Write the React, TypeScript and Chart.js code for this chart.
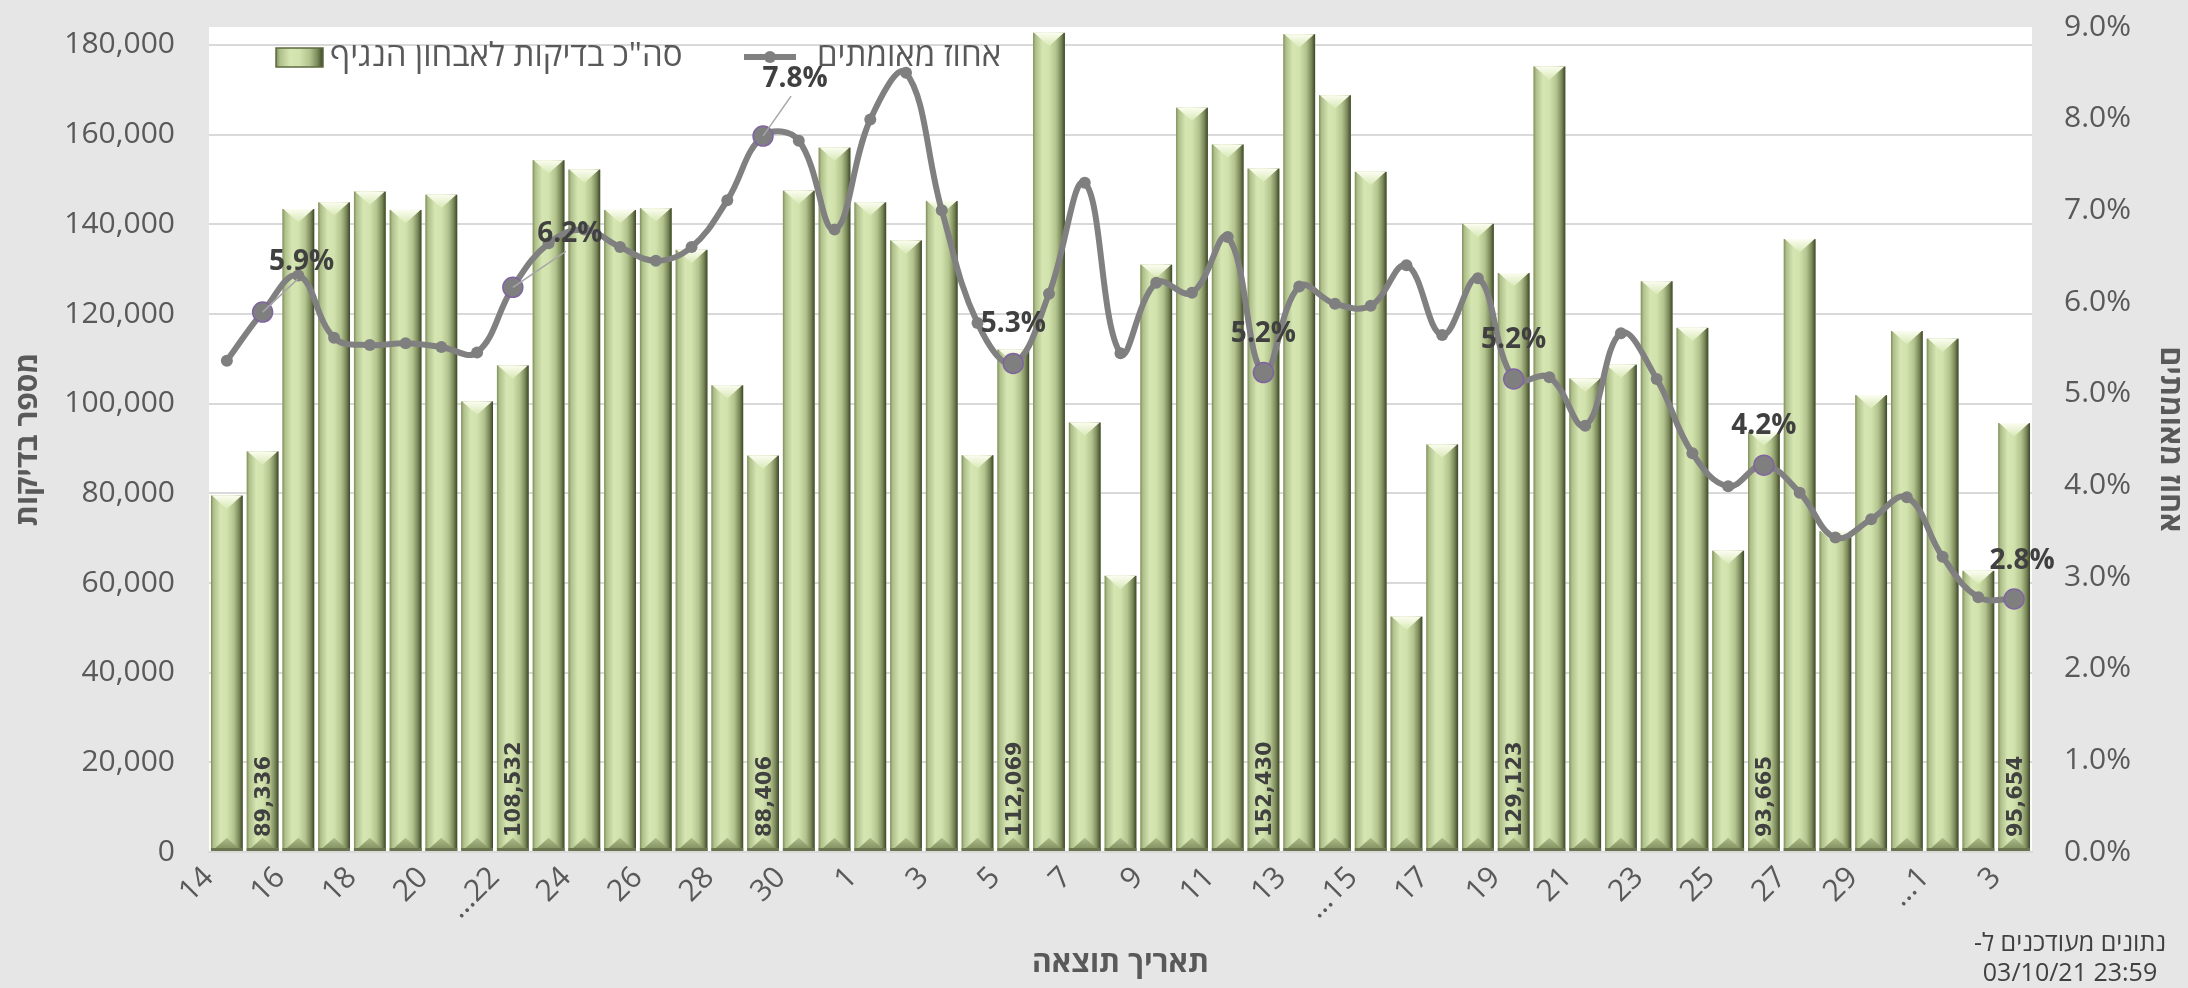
import React, { useEffect, useRef } from 'react';
import { Chart, registerables } from 'chart.js';

Chart.register(...registerables);

const FONT = "'Open Sans', 'Liberation Sans', 'DejaVu Sans', sans-serif";
Chart.defaults.font.family = FONT;

// Result dates: 14 Aug 2021 .. 3 Oct 2021 (Excel truncated three labels)
const categories = [
  '14', '15', '16', '17', '18', '19', '20', '21', '…22', '23', '24', '25', '26', '27', '28', '29', '30', '31',
  '1', '2', '3', '4', '5', '6', '7', '8', '9', '10', '11', '12', '13', '14', '…15', '16', '17', '18', '19', '20',
  '21', '22', '23', '24', '25', '26', '27', '28', '29', '30',
  '…1', '2', '3',
];

// Total diagnostic tests (bars, left axis)
const tests = [
  79500, 89336, 143400, 144900, 147300, 143200, 146600, 100500, 108532, 154300,
  152200, 143200, 143600, 134300, 104100, 88406, 147500, 157100, 144900, 136400,
  145200, 88500, 112069, 182700, 95800, 61600, 131000, 166000, 157800, 152430,
  182400, 168800, 151700, 52500, 90900, 140100, 129123, 175200, 105600, 108700,
  127300, 116900, 67200, 93665, 136700, 71600, 101900, 116200, 114500, 62700,
  95654,
];

// Positivity rate in percent (line, right axis)
const positivity = [
  5.36, 5.89, 6.29, 5.61, 5.53, 5.55, 5.51, 5.45, 6.16, 6.64,
  6.79, 6.6, 6.45, 6.6, 7.11, 7.81, 7.76, 6.79, 7.99, 8.5,
  7.0, 5.77, 5.33, 6.09, 7.3, 5.44, 6.21, 6.1, 6.71, 5.23,
  6.17, 5.98, 5.96, 6.4, 5.64, 6.26, 5.16, 5.18, 4.65, 5.66,
  5.16, 4.35, 3.99, 4.22, 3.92, 3.43, 3.63, 3.87, 3.22, 2.78,
  2.76,
];

// Points that carry data labels (weekly)
const labeledIdx = [1, 8, 15, 22, 29, 36, 43, 50];

// Axis ranges and tick values
const leftMax = 184000;
const leftTicks = [0, 20000, 40000, 60000, 80000, 100000, 120000, 140000, 160000, 180000];
const rightMax = 9;
const rightTicks = [0, 1, 2, 3, 4, 5, 6, 7, 8, 9];

const barLegend = 'סה"כ בדיקות לאבחון הנגיף';
const lineLegend = 'אחוז מאומתים';
const xTitle = 'תאריך תוצאה';
const yTitle = 'מספר בדיקות';
const y1Title = 'אחוז מאומתים';
const noteLines = ['נתונים מעודכנים ל-', '03/10/21 23:59'];

// label placement (style), keyed by point index: [dx, dy]
const labelShift: Record<number, [number, number]> = {
  1: [39, -50],
  8: [57, -53],
  15: [32, -57],
  50: [8, -38],
};

function barGradient(ctx: CanvasRenderingContext2D, l: number, r: number) {
  const g = ctx.createLinearGradient(l, 0, r, 0);
  g.addColorStop(0, '#7f8d5c');
  g.addColorStop(0.08, '#aebf8a');
  g.addColorStop(0.3, '#d6e6b3');
  g.addColorStop(0.5, '#d2e2ac');
  g.addColorStop(0.72, '#b3c38e');
  g.addColorStop(0.88, '#7c8a5a');
  g.addColorStop(1, '#3c4629');
  return g;
}

const decorPlugin = {
  id: 'decor',
  beforeDraw(chart: any) {
    const { ctx, chartArea } = chart;
    ctx.save();
    ctx.fillStyle = '#e6e6e6';
    ctx.fillRect(0, 0, chart.width, chart.height);
    ctx.fillStyle = '#ffffff';
    ctx.fillRect(chartArea.left, chartArea.top, chartArea.right - chartArea.left, chartArea.bottom - chartArea.top);
    ctx.restore();
  },
  afterDatasetDraw(chart: any, args: any) {
    if (args.index !== 0) return;
    const ctx: CanvasRenderingContext2D = chart.ctx;
    ctx.save();
    args.meta.data.forEach((bar: any) => {
      const { x, y, base, width } = bar.getProps(['x', 'y', 'base', 'width'], true);
      const l = x - width / 2;
      const r = x + width / 2;
      const h = base - y;
      ctx.fillStyle = barGradient(ctx, l, r);
      ctx.fillRect(l, y, width, h);
      const d = width * 0.42;
      const tg = ctx.createLinearGradient(0, y, 0, y + d);
      tg.addColorStop(0, '#fbfdf0');
      tg.addColorStop(1, '#d9e8b6');
      ctx.fillStyle = tg;
      ctx.beginPath();
      ctx.moveTo(l + 1, y);
      ctx.lineTo(r - 1, y);
      ctx.lineTo(x, y + d);
      ctx.closePath();
      ctx.fill();
      const bg = ctx.createLinearGradient(0, base - d, 0, base);
      bg.addColorStop(0, '#aebd8a');
      bg.addColorStop(1, '#7b885a');
      ctx.fillStyle = bg;
      ctx.beginPath();
      ctx.moveTo(l + 1, base);
      ctx.lineTo(r - 1, base);
      ctx.lineTo(x, base - d);
      ctx.closePath();
      ctx.fill();
      ctx.fillStyle = '#6a7550';
      ctx.fillRect(l, base - 3, width, 3);
    });
    ctx.restore();
  },
  afterDatasetsDraw(chart: any) {
    const ctx: CanvasRenderingContext2D = chart.ctx;
    const barMeta = chart.getDatasetMeta(0);
    const lineMeta = chart.getDatasetMeta(1);
    ctx.save();
    ctx.font = `bold 21px 'DejaVu Sans', sans-serif`;
    ctx.fillStyle = '#404040';
    ctx.textAlign = 'left';
    ctx.textBaseline = 'middle';
    labeledIdx.forEach((i) => {
      const el = barMeta.data[i];
      const { x, base } = el.getProps(['x', 'base'], true);
      ctx.save();
      ctx.translate(x + 2, base - 14);
      ctx.rotate(-Math.PI / 2);
      ctx.fillText(tests[i].toLocaleString('en-US'), 0, 0);
      ctx.restore();
    });
    labeledIdx.forEach((i) => {
      const el = lineMeta.data[i];
      const { x, y } = el.getProps(['x', 'y'], true);
      const [dx, dy] = labelShift[i] || [0, -39];
      const lx = x + dx;
      const ly = y + dy;
      if (Math.abs(dx) > 20) {
        ctx.strokeStyle = '#a6a6a6';
        ctx.lineWidth = 1.5;
        ctx.beginPath();
        ctx.moveTo(x, y);
        ctx.lineTo(lx - 4, ly + 17);
        ctx.stroke();
      }
      ctx.font = `bold 28px ${FONT}`;
      ctx.fillStyle = '#404040';
      ctx.textAlign = 'center';
      ctx.textBaseline = 'middle';
      ctx.fillText(positivity[i].toFixed(1) + '%', lx, ly);
    });
    ctx.restore();
  },
  afterDraw(chart: any) {
    const ctx: CanvasRenderingContext2D = chart.ctx;
    ctx.save();
    const ly = 57;
    ctx.fillStyle = barGradient(ctx, 276, 323);
    ctx.fillRect(276, 48, 47, 19);
    ctx.strokeStyle = '#5d6a3f';
    ctx.lineWidth = 1.5;
    ctx.strokeRect(276, 48, 47, 19);
    ctx.font = `33px ${FONT}`;
    ctx.fillStyle = '#595959';
    ctx.textBaseline = 'middle';
    ctx.textAlign = 'left';
    (ctx as any).direction = 'rtl';
    ctx.fillText(barLegend, 330, ly);
    ctx.strokeStyle = '#808080';
    ctx.lineWidth = 6;
    ctx.beginPath();
    ctx.moveTo(744, ly);
    ctx.lineTo(796, ly);
    ctx.stroke();
    ctx.fillStyle = '#7f7f7f';
    ctx.beginPath();
    ctx.arc(770, ly, 6, 0, Math.PI * 2);
    ctx.fill();
    ctx.fillStyle = '#595959';
    ctx.fillText(lineLegend, 817, ly);
    ctx.font = `25px ${FONT}`;
    ctx.fillStyle = '#404040';
    ctx.textAlign = 'center';
    ctx.fillText(noteLines[0], 2070, 944);
    (ctx as any).direction = 'ltr';
    ctx.fillText(noteLines[1], 2070, 974);
    ctx.restore();
  },
};

export default function App() {
  const ref = useRef<HTMLCanvasElement>(null);
  useEffect(() => {
    document.body.style.margin = '0';
    document.body.style.background = '#e6e6e6';
    const chart = new Chart(ref.current as HTMLCanvasElement, {
      type: 'bar',
      data: {
        labels: categories,
        datasets: [
          {
            type: 'bar',
            label: barLegend,
            data: tests,
            yAxisID: 'y',
            backgroundColor: '#cfe0a8',
            barPercentage: 0.89,
            categoryPercentage: 1,
            order: 1,
          },
          {
            type: 'line',
            label: lineLegend,
            data: positivity,
            yAxisID: 'y1',
            borderColor: '#808080',
            borderWidth: 6,
            tension: 0.4,
            pointRadius: (c: any) => (labeledIdx.includes(c.dataIndex) ? 10 : 6),
            pointBackgroundColor: '#7f7f7f',
            pointBorderColor: (c: any) => (labeledIdx.includes(c.dataIndex) ? '#8064a2' : '#7f7f7f'),
            pointBorderWidth: (c: any) => (labeledIdx.includes(c.dataIndex) ? 1.5 : 0),
            order: 0,
          } as any,
        ],
      },
      options: {
        responsive: false,
        animation: false,
        devicePixelRatio: 1,
        layout: { padding: { top: 27, left: 0, right: 0, bottom: 0 } },
        plugins: {
          legend: { display: false },
          tooltip: { enabled: false },
        },
        scales: {
          x: {
            grid: { display: false },
            border: { display: true, color: '#d9d9d9', width: 2 },
            ticks: {
              autoSkip: false,
              maxRotation: 45,
              minRotation: 45,
              padding: 0,
              labelOffset: -18,
              color: '#595959',
              font: { size: 30 },
              callback: (_v: any, i: number) => (i % 2 === 0 ? categories[i] : ''),
            },
            title: {
              display: true,
              text: xTitle,
              color: '#595959',
              font: { size: 30, weight: 'bold' },
              padding: { top: 0, bottom: 7 },
            },
            afterFit: (s: any) => {
              s.height = 136;
            },
          },
          y: {
            position: 'left',
            min: 0,
            max: leftMax,
            grid: { color: '#d9d9d9', lineWidth: 2, drawTicks: true, tickLength: 34, tickColor: 'rgba(0,0,0,0)' },
            border: { display: false },
            afterBuildTicks: (s: any) => {
              s.ticks = leftTicks.map((v) => ({ value: v }));
            },
            ticks: {
              padding: 0,
              color: '#595959',
              font: { size: 30 },
              callback: (v: any) => Number(v).toLocaleString('en-US'),
            },
            title: {
              display: true,
              text: yTitle,
              color: '#595959',
              font: { size: 30, weight: 'bold' },
              padding: { top: 10, bottom: 0 },
            },
            afterFit: (s: any) => {
              s.width = 209;
            },
          },
          y1: {
            position: 'right',
            min: 0,
            max: rightMax,
            grid: { display: false, drawTicks: true, tickLength: 32 },
            border: { display: false },
            afterBuildTicks: (s: any) => {
              s.ticks = rightTicks.map((v) => ({ value: v }));
            },
            ticks: {
              padding: 0,
              color: '#595959',
              font: { size: 30 },
              callback: (v: any) => Number(v).toFixed(1) + '%',
            },
            title: {
              display: true,
              text: y1Title,
              color: '#595959',
              font: { size: 30, weight: 'bold' },
              padding: { top: 0, bottom: 0 },
            },
            afterFit: (s: any) => {
              s.width = 156;
            },
          },
        },
      } as any,
      plugins: [decorPlugin],
    });
    return () => chart.destroy();
  }, []);
  return <canvas ref={ref} width={2188} height={988} style={{ display: 'block', width: 2188, height: 988 }} />;
}
